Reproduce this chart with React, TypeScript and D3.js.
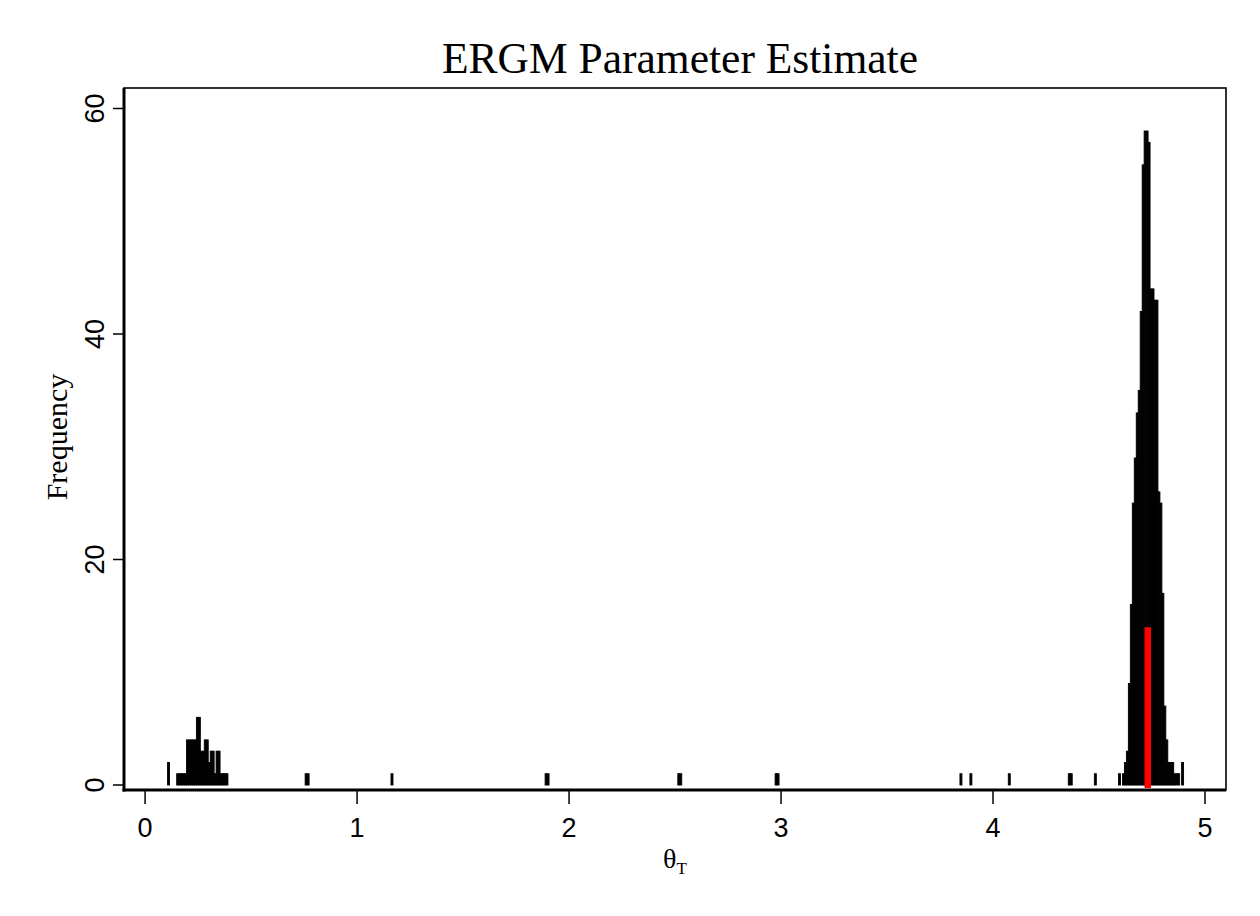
import React from "react";
import * as d3 from "d3";

// ---- data (theta_T histogram, frequency) ----
const binWidth = 0.0093;

const leftClusterStart = 0.149;
const leftClusterCounts = [1, 1, 1, 1, 1, 4, 4, 4, 4, 4, 6, 6, 3, 3, 4, 4, 2, 3, 3, 1, 3, 3, 1, 1, 1, 1];

const rightClusterStart = 4.592;
const rightClusterCounts = [1, 0, 1, 2, 3, 9, 16, 25, 29, 33, 35, 42, 55, 58, 58, 57, 44, 44, 43, 43, 26, 25, 17, 7, 4, 2, 2, 2, 1, 1, 1, 0, 2];

const isolatedBinStarts = [0.106, 0.755, 0.7643, 1.16, 1.887, 1.8963, 2.513, 2.5223, 2.972, 2.9813, 3.844, 3.891, 4.072, 4.355, 4.3643, 4.478];
const isolatedBinCounts = [2, 1, 1, 1, 1, 1, 1, 1, 1, 1, 1, 1, 1, 1, 1, 1];

const trueValue = 4.73;
const trueValueHeight = 14;

const xTicks = [0, 1, 2, 3, 4, 5];
const yTicks = [0, 20, 40, 60];

const title = "ERGM Parameter Estimate";
const yLabel = "Frequency";

type Bin = { x0: number; n: number };

function buildBins(): Bin[] {
  const bins: Bin[] = [];
  leftClusterCounts.forEach((n, i) => bins.push({ x0: leftClusterStart + i * binWidth, n }));
  rightClusterCounts.forEach((n, i) => bins.push({ x0: rightClusterStart + i * binWidth, n }));
  isolatedBinStarts.forEach((x0, i) => bins.push({ x0, n: isolatedBinCounts[i] }));
  return bins.filter((b) => b.n > 0);
}

export default function App() {
  const W = 1260;
  const H = 916;
  const frame = { left: 124, right: 1226, top: 88, bottom: 790 };

  const x = d3.scaleLinear().domain([0, 5]).range([145.1, 1205]);
  const y = d3.scaleLinear().domain([0, 60]).range([785, 108.5]);

  const bins = buildBins();
  const sans = "'Liberation Sans', Arial, Helvetica, sans-serif";
  const serif = "'Liberation Serif', 'Times New Roman', serif";

  return (
    <svg
      width={W}
      height={H}
      style={{ position: "absolute", left: 0, top: 0, background: "#fff" }}
    >
      <rect x={0} y={0} width={W} height={H} fill="#fff" />
      {/* title */}
      <text x={680} y={73} textAnchor="middle" fontFamily={serif} fontSize={43.5} fill="#000">
        {title}
      </text>

      {/* plot frame */}
      <rect
        x={frame.left}
        y={frame.top}
        width={frame.right - frame.left}
        height={frame.bottom - frame.top}
        fill="none"
        stroke="#000"
        strokeWidth={1.6}
      />

      {/* bars */}
      <g>
        {bins.map((b, i) => {
          const x0 = x(b.x0);
          const x1 = x(b.x0 + binWidth);
          return (
            <rect
              key={i}
              x={x0}
              y={y(b.n)}
              width={x1 - x0}
              height={y(0) - y(b.n)}
              fill="#000"
              stroke="#000"
              strokeWidth={0.9}
            />
          );
        })}
      </g>

      {/* true value marker */}
      <line
        x1={x(trueValue)}
        x2={x(trueValue)}
        y1={y(0) + 3}
        y2={y(trueValueHeight)}
        stroke="#ff0000"
        strokeWidth={6.5}
      />

      {/* axes lines */}
      <line x1={frame.left} x2={frame.left} y1={frame.top} y2={frame.bottom + 1.5} stroke="#000" strokeWidth={3} />
      <line x1={frame.left - 1.5} x2={frame.right} y1={frame.bottom} y2={frame.bottom} stroke="#000" strokeWidth={3} />

      {/* y ticks */}
      {yTicks.map((t) => (
        <g key={"y" + t}>
          <line x1={frame.left - 11} x2={frame.left} y1={y(t)} y2={y(t)} stroke="#000" strokeWidth={1.5} />
          <text
            transform={`translate(104,${y(t)}) rotate(-90)`}
            textAnchor="middle"
            fontFamily={sans}
            fontSize={27}
            fill="#000"
          >
            {t}
          </text>
        </g>
      ))}

      {/* x ticks */}
      {xTicks.map((t) => (
        <g key={"x" + t}>
          <line x1={x(t)} x2={x(t)} y1={frame.bottom} y2={frame.bottom + 14} stroke="#000" strokeWidth={1.5} />
          <text x={x(t)} y={837} textAnchor="middle" fontFamily={sans} fontSize={27} fill="#000">
            {t}
          </text>
        </g>
      ))}

      {/* axis titles */}
      <text
        transform={`translate(67,437) rotate(-90)`}
        textAnchor="middle"
        fontFamily={serif}
        fontSize={30}
        fill="#000"
      >
        {yLabel}
      </text>
      <text x={675} y={868} textAnchor="middle" fontFamily={serif} fontSize={28} fill="#000">
        θ<tspan fontSize={17} dy={6}>T</tspan>
      </text>
    </svg>
  );
}
